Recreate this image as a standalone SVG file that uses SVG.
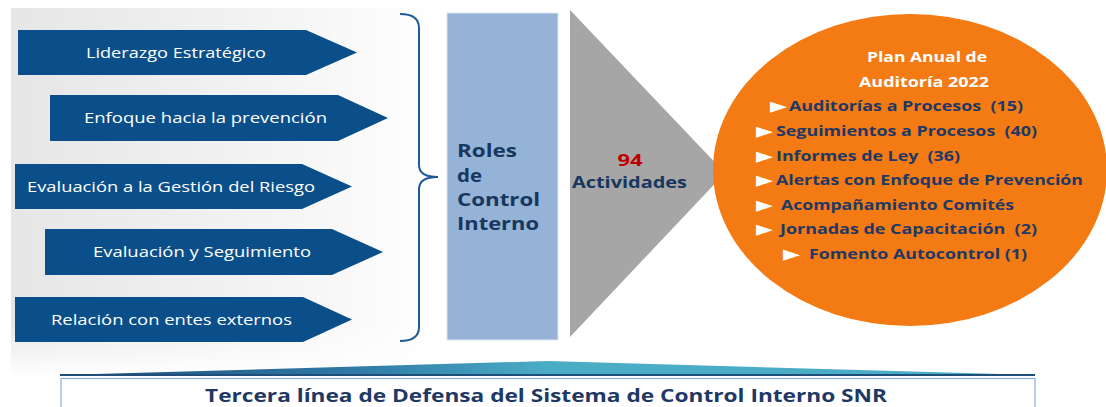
<svg xmlns="http://www.w3.org/2000/svg" width="1106" height="407" viewBox="0 0 1106 407">
<defs>
<linearGradient id="bg" x1="0" y1="0" x2="1" y2="0">
<stop offset="0" stop-color="#e6e6e6"/>
<stop offset="0.5" stop-color="#f1f1f1"/>
<stop offset="1" stop-color="#ffffff"/>
</linearGradient>
<linearGradient id="fade" x1="0" y1="0" x2="0" y2="1">
<stop offset="0" stop-color="#ffffff" stop-opacity="0"/>
<stop offset="0.85" stop-color="#ffffff" stop-opacity="0"/>
<stop offset="1" stop-color="#ffffff" stop-opacity="1"/>
</linearGradient>
<linearGradient id="sw" x1="0" y1="0" x2="1" y2="0">
<stop offset="0" stop-color="#1f4e79"/>
<stop offset="0.3" stop-color="#2f79a6"/>
<stop offset="0.5" stop-color="#4bacc6"/>
<stop offset="1" stop-color="#4bacc6"/>
</linearGradient>
<style>
.arr{fill:#0b4f8a;}
.at{font-family:"Open Sans",sans-serif;font-size:14px;fill:#ffffff;}
.rt{font-family:"Open Sans",sans-serif;font-size:17px;font-weight:bold;fill:#17375e;}
.li{font-family:"Open Sans",sans-serif;font-size:13.5px;font-weight:bold;fill:#1f3864;white-space:pre;}
.bu{font-family:"DejaVu Sans",sans-serif;font-size:22px;fill:#ffffff;}
.wt{font-family:"Open Sans",sans-serif;font-size:13.5px;font-weight:bold;fill:#ffffff;}
</style>
</defs>
<rect x="0" y="0" width="1106" height="407" fill="#ffffff"/>
<rect x="11" y="8" width="430" height="370" fill="url(#bg)"/>
<rect x="11" y="8" width="430" height="370" fill="url(#fade)"/>

<g id="arrow1"><polygon class="arr" points="18,30 306,30 357,52.5 306,75 18,75"/><text class="at" x="86" y="58" textLength="180" lengthAdjust="spacingAndGlyphs">Liderazgo Estratégico</text></g>
<g id="arrow2"><polygon class="arr" points="50,95 338,95 388,118 338,141 50,141"/><text class="at" x="84" y="123" textLength="243" lengthAdjust="spacingAndGlyphs">Enfoque hacia la prevención</text></g>
<g id="arrow3"><polygon class="arr" points="15,164 302,164 352,186.5 302,209 15,209"/><text class="at" x="27" y="192" textLength="288" lengthAdjust="spacingAndGlyphs">Evaluación a la Gestión del Riesgo</text></g>
<g id="arrow4"><polygon class="arr" points="45,229 332,229 383,252 332,275 45,275"/><text class="at" x="93" y="257" textLength="218" lengthAdjust="spacingAndGlyphs">Evaluación y Seguimiento</text></g>
<g id="arrow5"><polygon class="arr" points="15,297 303,297 352,319.5 303,342 15,342"/><text class="at" x="51" y="325" textLength="241" lengthAdjust="spacingAndGlyphs">Relación con entes externos</text></g>

<g id="connectors">
<path d="M400,14 Q419,14 419,28 L419,165 Q419,177 438,177 Q419,177 419,189 L419,327 Q419,341 400,341" fill="none" stroke="#1f5a96" stroke-width="2"/>
</g>

<g id="roles">
<rect x="447" y="13" width="111" height="327" fill="#95b3d7" stroke="#dbe5f1" stroke-width="1"/>
<text class="rt" x="457" y="157" textLength="60" lengthAdjust="spacingAndGlyphs">Roles</text>
<text class="rt" x="457" y="182" textLength="25" lengthAdjust="spacingAndGlyphs">de</text>
<text class="rt" x="457" y="206" textLength="83" lengthAdjust="spacingAndGlyphs">Control</text>
<text class="rt" x="457" y="230" textLength="82" lengthAdjust="spacingAndGlyphs">Interno</text>
</g>

<g id="actividades">
<polygon points="570,10 725,173 570,337" fill="#a6a6a6"/>
<text x="630" y="166" text-anchor="middle" font-family="Open Sans, sans-serif" font-size="16" font-weight="bold" fill="#c00000" textLength="25" lengthAdjust="spacingAndGlyphs">94</text>
<text x="572" y="188" font-family="Open Sans, sans-serif" font-size="16" font-weight="bold" fill="#17375e" textLength="115" lengthAdjust="spacingAndGlyphs">Actividades</text>
</g>

<g id="plan">
<ellipse cx="910" cy="170" rx="197" ry="156" fill="#f47a14"/>
<text class="wt" x="867" y="62" textLength="120" lengthAdjust="spacingAndGlyphs">Plan Anual de</text>
<text class="wt" x="859" y="87" textLength="130" lengthAdjust="spacingAndGlyphs">Auditoría 2022</text>
<text class="bu" x="770" y="113">►</text>
<text class="li" x="789" y="111" textLength="234" lengthAdjust="spacingAndGlyphs" xml:space="preserve">Auditorías a Procesos  (15)</text>
<text class="bu" x="756" y="138">►</text>
<text class="li" x="776" y="136" textLength="261" lengthAdjust="spacingAndGlyphs" xml:space="preserve">Seguimientos a Procesos  (40)</text>
<text class="bu" x="756" y="163">►</text>
<text class="li" x="776" y="161" textLength="184" lengthAdjust="spacingAndGlyphs" xml:space="preserve">Informes de Ley  (36)</text>
<text class="bu" x="756" y="187">►</text>
<text class="li" x="776" y="185" textLength="307" lengthAdjust="spacingAndGlyphs">Alertas con Enfoque de Prevención</text>
<text class="bu" x="756" y="212">►</text>
<text class="li" x="781" y="210" textLength="233" lengthAdjust="spacingAndGlyphs">Acompañamiento Comités</text>
<text class="bu" x="756" y="236">►</text>
<text class="li" x="780" y="234" textLength="257" lengthAdjust="spacingAndGlyphs" xml:space="preserve">Jornadas de Capacitación  (2)</text>
<text class="bu" x="783" y="261">►</text>
<text class="li" x="809" y="259" textLength="218" lengthAdjust="spacingAndGlyphs">Fomento Autocontrol (1)</text>
</g>

<g id="tercera">
<polygon points="60,375 548,361 1035,375" fill="url(#sw)"/>
<line x1="60" y1="375" x2="1035" y2="375" stroke="#1f4e79" stroke-width="2"/>
<rect x="61" y="378.5" width="974" height="40" fill="#ffffff" stroke="#8faadc" stroke-width="1.2"/>
<text x="546" y="402" text-anchor="middle" font-family="Open Sans, sans-serif" font-size="18" font-weight="bold" fill="#1f3864" textLength="682" lengthAdjust="spacingAndGlyphs">Tercera línea de Defensa del Sistema de Control Interno SNR</text>
</g>
</svg>
